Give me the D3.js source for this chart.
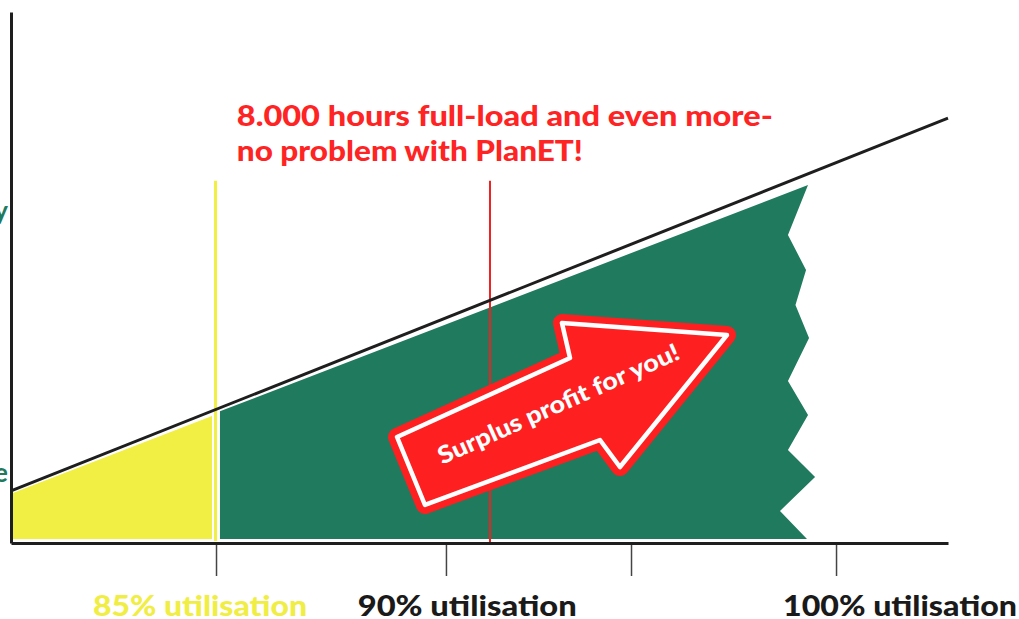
<!DOCTYPE html>
<html>
<head>
<meta charset="utf-8">
<script src="https://cdn.jsdelivr.net/npm/d3@7"></script>
<style>
  html, body { margin: 0; padding: 0; background: #ffffff; }
  svg { display: block; }
</style>
</head>
<body>
<svg id="chart" width="1019" height="619"></svg>
<script>
// ---------- data (chart units: x = 0..100 along the axis, y = 0..100 up the axis) ----------
const profitLine = [[0, 9.8], [100, 80.0]];                 // black profitability line
const yellowTop = [[0.2, 9.4], [21.45, 23.9]];               // area up to 85 % utilisation
const yellowBottom = 0.75;
const greenEdge = [                                          // area 85 % .. 100 % (torn right edge)
  [22.3, 0.75], [22.3, 24.8], [85.06, 67.42],
  [82.92, 58.0], [84.85, 51.41], [83.72, 44.82], [85.17, 38.61],
  [82.92, 30.51], [85.06, 24.11], [82.92, 17.51], [85.81, 12.43],
  [82.07, 6.03], [84.95, 0.75]
];
const markerYellow = { x: 21.83, y0: 0.4, y1: 68.2 };        // 85 % marker
const markerRed = { x: 51.12, y0: 0, y1: 68.2 };             // 8.000 h marker
const tickValues = [21.88, 46.42, 66.17, 88.05];
const tickLabels = ["85% utilisation", "90% utilisation", "100% utilisation"];
const tickLabelX = [8.75, 37.0, 82.4];
const tickLabelW = [214, 219, 234];
const tickLabelColors = ["#f0ee45", "#1a1a1a", "#1a1a1a"];
const titleLines = ["8.000 hours full-load and even more-", "no problem with PlanET!"];
const titleY = [78.5, 71.9];
const titleX = 24.1;
const titleW = [536, 346];
const sideLabels = ["Profitability", "Baseline"];
const sideLabelY = [60.8, 11.5];
const arrowPts = [
  [41.20, 19.96], [59.66, 34.84], [58.80, 41.43], [76.41, 39.17],
  [64.99, 14.31], [62.86, 19.40], [44.18, 7.16]
];
const arrowText = "Surplus profit for you!";
const arrowTextPos = [58.8, 24.76];

// ---------- scales ----------
const svg = d3.select("#chart");
const x = d3.scaleLinear().domain([0, 100]).range([11, 948]);
const y = d3.scaleLinear().domain([0, 100]).range([543, 12]);

const GREEN = "#1f7a5e", YELLOW = "#f1ef44", RED = "#fe2020", INK = "#1e1e1e";
const FONT = "Lato, 'Open Sans', 'DejaVu Sans', sans-serif";

const line = d3.line().x(d => x(d[0])).y(d => y(d[1]));

// yellow area
const yArea = d3.area()
  .x(d => x(d[0]))
  .y0(y(yellowBottom))
  .y1(d => y(d[1]));
svg.append("path").attr("d", yArea(yellowTop)).attr("fill", YELLOW);

// green area
svg.append("path").attr("d", line(greenEdge) + "Z").attr("fill", GREEN);

// vertical markers
svg.append("line")
  .attr("x1", x(markerYellow.x)).attr("x2", x(markerYellow.x))
  .attr("y1", y(markerYellow.y0)).attr("y2", y(markerYellow.y1))
  .attr("stroke", YELLOW).attr("stroke-width", 3);
svg.append("line")
  .attr("x1", x(markerRed.x)).attr("x2", x(markerRed.x))
  .attr("y1", y(markerRed.y0)).attr("y2", y(markerRed.y1))
  .attr("stroke", "#ee2222").attr("stroke-width", 2);

// profitability line
svg.append("path").attr("d", line(profitLine))
  .attr("fill", "none").attr("stroke", INK).attr("stroke-width", 3);

// axes
const xAxis = svg.append("g").attr("transform", `translate(0,${y(0)})`)
  .call(d3.axisBottom(x).tickValues(tickValues).tickSize(33).tickSizeOuter(0).tickFormat(""));
xAxis.select(".domain").attr("stroke", INK).attr("stroke-width", 3);
xAxis.selectAll(".tick line").attr("stroke", "#444").attr("stroke-width", 1.5).attr("y1", 2);

const yAxis = svg.append("g").attr("transform", `translate(${x(0)},0)`)
  .call(d3.axisLeft(y).tickValues([]).tickSizeOuter(0));
yAxis.select(".domain").attr("stroke", INK).attr("stroke-width", 3);

// side labels (cut off at the left edge, as in the reference)
svg.selectAll("text.side").data(sideLabels).join("text")
  .attr("class", "side")
  .attr("x", 8).attr("y", (d, i) => y(sideLabelY[i]))
  .attr("text-anchor", "end")
  .attr("font-family", FONT).attr("font-weight", 700).attr("font-size", 26)
  .attr("fill", GREEN).text(d => d);

// arrow
const arrowD = line(arrowPts) + "Z";
svg.append("path").attr("d", arrowD)
  .attr("fill", RED).attr("stroke", RED).attr("stroke-width", 18).attr("stroke-linejoin", "round");
svg.append("path").attr("d", arrowD)
  .attr("fill", RED).attr("stroke", "#ffffff").attr("stroke-width", 4.5).attr("stroke-linejoin", "round");
svg.append("text")
  .attr("transform", `translate(${x(arrowTextPos[0])},${y(arrowTextPos[1])}) rotate(-24)`)
  .attr("text-anchor", "middle")
  .attr("font-family", FONT).attr("font-weight", 900).attr("font-size", 24)
  .attr("textLength", 262).attr("lengthAdjust", "spacingAndGlyphs")
  .attr("fill", "#ffffff").text(arrowText);

// title
svg.selectAll("text.title").data(titleLines).join("text")
  .attr("class", "title")
  .attr("x", x(titleX)).attr("y", (d, i) => y(titleY[i]))
  .attr("font-family", FONT).attr("font-weight", 900).attr("font-size", 28)
  .attr("textLength", (d, i) => titleW[i]).attr("lengthAdjust", "spacingAndGlyphs")
  .attr("fill", "#ff2424").text(d => d);

// tick labels
svg.selectAll("text.tick-label").data(tickLabels).join("text")
  .attr("class", "tick-label")
  .attr("x", (d, i) => x(tickLabelX[i])).attr("y", 616)
  .attr("font-family", FONT).attr("font-weight", 900).attr("font-size", 29)
  .attr("textLength", (d, i) => tickLabelW[i]).attr("lengthAdjust", "spacingAndGlyphs")
  .attr("fill", (d, i) => tickLabelColors[i]).text(d => d);
</script>
</body>
</html>
